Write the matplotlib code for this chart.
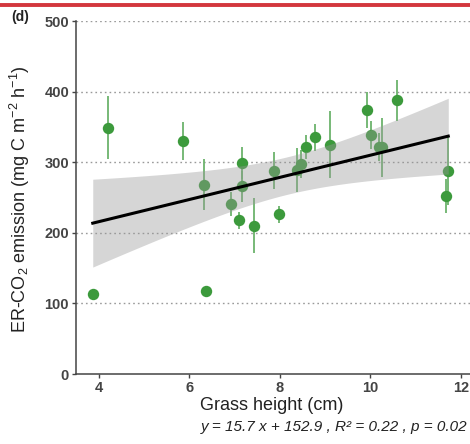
import numpy as np
import matplotlib
matplotlib.use("Agg")
import matplotlib.pyplot as plt

# Data
grass_height = [3.87, 4.21, 5.86, 6.32, 6.36, 6.93, 7.10, 7.16, 7.16, 7.44, 7.88, 7.98,
                8.38, 8.47, 8.58, 8.77, 9.10, 9.93, 10.01, 10.18, 10.25, 10.58, 11.66, 11.72]
er_co2 = [113, 349, 330, 268, 117, 241, 218, 299, 266, 210, 288, 226,
          289, 297, 322, 335, 325, 374, 338, 322, 321, 388, 252, 288]
er_err = [0, 45, 27, 36, 0, 17, 12, 23, 22, 39, 26, 12,
          31, 20, 17, 19, 48, 26, 20, 20, 42, 29, 24, 48]
slope, intercept = 15.7, 152.9
x_ticks = [4, 6, 8, 10, 12]
y_ticks = [0, 100, 200, 300, 400, 500]

plt.rcParams['font.family'] = ['Liberation Sans', 'DejaVu Sans']
plt.rcParams['mathtext.fontset'] = 'custom'
plt.rcParams['mathtext.rm'] = 'Liberation Sans'
plt.rcParams['mathtext.it'] = 'Liberation Sans:italic'

W, H = 470, 444
fig = plt.figure(figsize=(W / 100, H / 100), dpi=100)
ax = fig.add_axes([76 / W, (H - 374) / H, (470 - 76) / W, (374 - 21) / H])

x = np.array(grass_height)
y = np.array(er_co2)
e = np.array(er_err)

# gridlines
for t in y_ticks[1:]:
    ax.axhline(t, color='#9a9a9a', lw=1.0, ls=(0, (1.2, 2.2)), zorder=0)

# error bars and points
ax.errorbar(x, y, yerr=e, fmt='none', ecolor='#6cb36c', elinewidth=1.3, capsize=0, zorder=2)
ax.plot(x, y, 'o', color='#3c9a3c', markersize=8.2, markeredgewidth=0, zorder=3)

# regression with 95% CI
xs = np.linspace(x.min(), x.max(), 200)
yfit = slope * xs + intercept
n = len(x)
resid = y - (slope * x + intercept)
s = np.sqrt(np.sum(resid ** 2) / (n - 2))
sxx = np.sum((x - x.mean()) ** 2)
tval = 2.074
half = tval * s * np.sqrt(1 / n + (xs - x.mean()) ** 2 / sxx)
ax.fill_between(xs, yfit - half, yfit + half, color='#999999', alpha=0.4, lw=0, zorder=4)
ax.plot(xs, yfit, color='black', lw=2.2, zorder=5)

ax.set_xlim(3.5, 12.2)
ax.set_ylim(0, 500)
ax.set_xticks(x_ticks)
ax.set_yticks(y_ticks)
for sp in ['top', 'right']:
    ax.spines[sp].set_visible(False)
for sp in ['left', 'bottom']:
    ax.spines[sp].set_color('#444444')
    ax.spines[sp].set_linewidth(1.1)
ax.tick_params(axis='both', colors='#444444', length=3, width=1, labelsize=10.5, pad=2)
for lab in ax.get_xticklabels() + ax.get_yticklabels():
    lab.set_fontweight('bold')
    lab.set_color('#444444')

fig.text(272 / W, 1 - 405 / H, 'Grass height (cm)', ha='center', va='center', fontsize=13, color='#222222')
fig.text(467 / W, 1 - 427 / H, 'y = 15.7 x + 152.9 , R² = 0.22 , p = 0.02',
         ha='right', va='center', fontsize=11, style='italic', color='#222222')
fig.text(20 / W, 1 - 199 / H, r'ER-CO$_2$ emission (mg C m$^{-2}$ h$^{-1}$)',
         rotation=90, ha='center', va='center', fontsize=13, color='#222222')
fig.text(20 / W, 1 - 17 / H, '(d)', ha='center', va='center', fontsize=10, fontweight='bold', color='#222222')

# red line at top
fig.add_artist(plt.Line2D([0, 1], [1 - 5 / H, 1 - 5 / H], color='#d3373d', lw=2.8, transform=fig.transFigure))

fig.savefig('out.png', dpi=100)
